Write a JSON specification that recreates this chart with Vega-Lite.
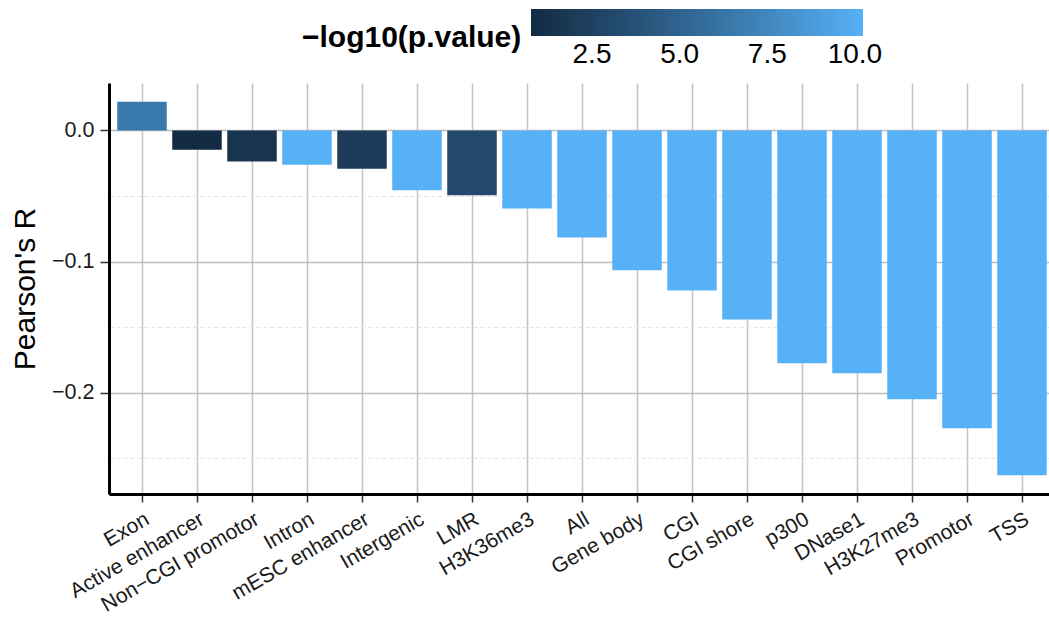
{
  "$schema": "https://vega.github.io/schema/vega-lite/v6.json",
  "autosize": {"type": "none"},
  "padding": {"left": 109, "top": 83, "right": 0, "bottom": 124},
  "width": 946,
  "height": 411,
  "background": "white",
  "config": {
    "font": "Liberation Sans",
    "view": {"stroke": null}
  },
  "data": {
    "values": [
      {"region": "Exon", "r": 0.0219, "logp": 6.5},
      {"region": "Active enhancer", "r": -0.0147, "logp": 0.76},
      {"region": "Non\u2212CGI promotor", "r": -0.0236, "logp": 1.55},
      {"region": "Intron", "r": -0.0261, "logp": 10.23},
      {"region": "mESC enhancer", "r": -0.0292, "logp": 2.0},
      {"region": "Intergenic", "r": -0.0457, "logp": 10.23},
      {"region": "LMR", "r": -0.0495, "logp": 3.2},
      {"region": "H3K36me3", "r": -0.0595, "logp": 10.23},
      {"region": "All", "r": -0.0816, "logp": 10.23},
      {"region": "Gene body", "r": -0.1067, "logp": 10.23},
      {"region": "CGI", "r": -0.122, "logp": 10.23},
      {"region": "CGI shore", "r": -0.1442, "logp": 10.23},
      {"region": "p300", "r": -0.1776, "logp": 10.23},
      {"region": "DNase1", "r": -0.1852, "logp": 10.23},
      {"region": "H3K27me3", "r": -0.205, "logp": 10.23},
      {"region": "Promotor", "r": -0.2271, "logp": 10.23},
      {"region": "TSS", "r": -0.263, "logp": 10.23}
    ]
  },
  "mark": {"type": "bar", "orient": "vertical"},
  "encoding": {
    "x": {
      "field": "region",
      "type": "nominal",
      "sort": null,
      "scale": {"paddingInner": 0.1, "paddingOuter": 0.15},
      "axis": {
        "title": null,
        "labelAngle": -30,
        "labelAlign": "right",
        "labelBaseline": "top",
        "labelFontSize": 21,
        "labelColor": "#1a1a1a",
        "labelPadding": 6,
        "labelOverlap": false,
        "domainColor": "black",
        "domainWidth": 3,
        "tickColor": "#333333",
        "tickWidth": 1.5,
        "tickSize": 8,
        "grid": true,
        "gridColor": "#c4c4c4",
        "gridWidth": 1.5,
        "zindex": 0
      }
    },
    "y": {
      "field": "r",
      "type": "quantitative",
      "scale": {"domain": [-0.2773, 0.0362], "nice": false, "zero": false},
      "axis": {
        "title": "Pearson's R",
        "titleFontSize": 30,
        "titleFontWeight": "normal",
        "titleColor": "black",
        "titleX": -84,
        "titleBaseline": "middle",
        "values": [0.0, -0.05, -0.1, -0.15, -0.2, -0.25],
        "labelExpr": "round(datum.value * 20) % 2 != 0 ? '' : format(datum.value, '.1f')",
        "labelFontSize": 21.5,
        "labelColor": "#1a1a1a",
        "labelPadding": 6,
        "domainColor": "black",
        "domainWidth": 3,
        "tickColor": "#333333",
        "tickWidth": 1.5,
        "tickSize": 9,
        "tickOpacity": {"condition": {"test": "round(datum.value * 20) % 2 != 0", "value": 0}, "value": 1},
        "grid": true,
        "gridColor": {"condition": {"test": "round(datum.value * 20) % 2 != 0", "value": "#e3e3e3"}, "value": "#bdbdbd"},
        "gridWidth": {"condition": {"test": "round(datum.value * 20) % 2 != 0", "value": 1}, "value": 1.5},
        "gridDash": {"condition": {"test": "round(datum.value * 20) % 2 != 0", "value": [4, 3]}, "value": []},
        "zindex": 0
      }
    },
    "color": {
      "field": "logp",
      "type": "quantitative",
      "scale": {"domain": [0.76, 10.23], "range": ["#132B43", "#56B1F7"], "interpolate": "lab"},
      "legend": {
        "title": "\u2212log10(p.value)",
        "orient": "none",
        "direction": "horizontal",
        "legendX": 193,
        "legendY": -74,
        "titleOrient": "left",
        "titleAnchor": "middle",
        "titleFontSize": 30,
        "titleFontWeight": "bold",
        "titleColor": "black",
        "titlePadding": 9,
        "titleBaseline": "top",
        "titleLimit": 500,
        "gradientLength": 332,
        "gradientThickness": 27,
        "gradientStrokeWidth": 0,
        "values": [2.5, 5, 7.5, 10],
        "format": ".1f",
        "labelFontSize": 28,
        "labelColor": "black",
        "labelOffset": 5,
        "labelOverlap": false
      }
    }
  }
}
